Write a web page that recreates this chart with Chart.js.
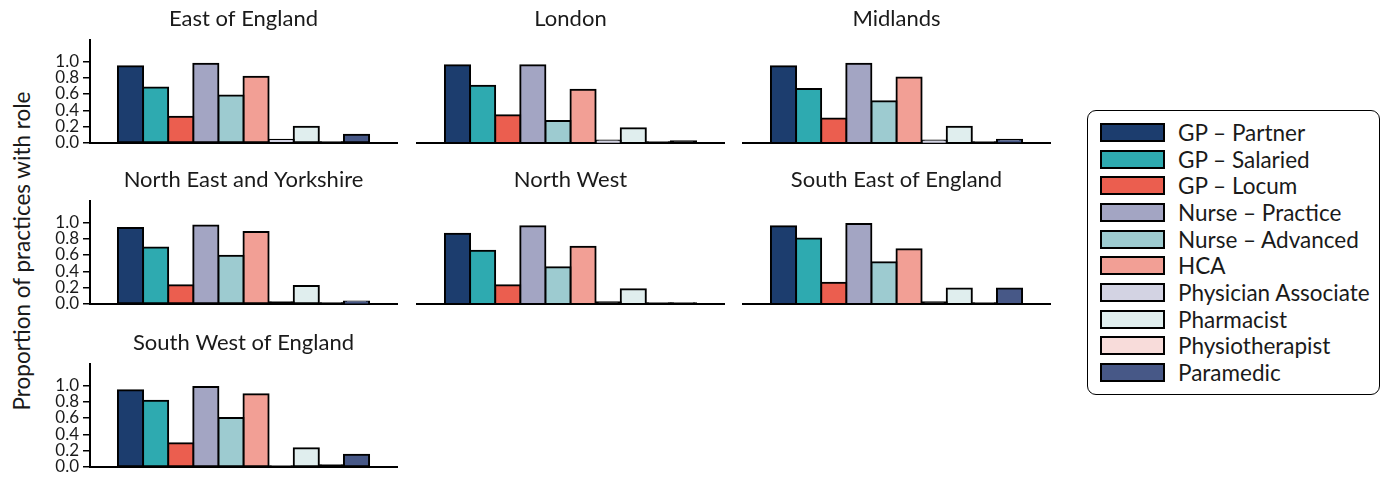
<!DOCTYPE html>
<html>
<head>
<meta charset="utf-8">
<script src="https://cdn.jsdelivr.net/npm/chart.js@4.4.1/dist/chart.umd.min.js"></script>
<style>
  body { margin: 0; width: 1381px; height: 477px; background: #fff; position: relative; overflow: hidden; font-family: Lato, sans-serif; color: #1a1a1a; }
  canvas.panel { position: absolute; }
  #ylabel { position: absolute; left: 21px; top: 251px; transform: translate(-50%, -50%) rotate(-90deg); font-size: 22.5px; white-space: nowrap; }
  #legend { position: absolute; left: 1087px; top: 110px; width: 293px; height: 285px; border: 1.5px solid #000; border-radius: 9px; box-sizing: border-box; }
  .item { position: absolute; left: 12px; height: 19px; display: flex; align-items: center; }
  .swatch { width: 65px; height: 19px; border: 2px solid #000; box-sizing: border-box; flex: none; }
  .item span { margin-left: 13px; font-size: 22.5px; line-height: 19px; white-space: nowrap; }
</style>
</head>
<body>
<div id="ylabel">Proportion of practices with role</div>
<div id="legend"></div>
<script>
// Staff roles, in bar order, with their fill colours
const roles = ['GP – Partner', 'GP – Salaried', 'GP – Locum', 'Nurse – Practice', 'Nurse – Advanced',
               'HCA', 'Physician Associate', 'Pharmacist', 'Physiotherapist', 'Paramedic'];
const roleColours = ['#1c3d6e', '#2eaab0', '#eb5e4f', '#a3a5c3', '#9dcbd0',
                     '#f29f95', '#d3d3e3', '#e0eeee', '#f8dcda', '#475887'];

// NHS regions, one small panel each
const regions = ['East of England', 'London', 'Midlands', 'North East and Yorkshire',
                 'North West', 'South East of England', 'South West of England'];

// Proportion of practices employing each role, per region (same order as roles)
const eastOfEngland    = [0.94, 0.68, 0.32, 0.97, 0.58, 0.81, 0.04, 0.20, 0.01, 0.10];
const london           = [0.95, 0.70, 0.34, 0.95, 0.27, 0.65, 0.03, 0.18, 0.01, 0.02];
const midlands         = [0.94, 0.66, 0.30, 0.97, 0.51, 0.80, 0.03, 0.20, 0.01, 0.04];
const northEastYorks   = [0.93, 0.69, 0.23, 0.96, 0.59, 0.88, 0.02, 0.22, 0.01, 0.03];
const northWest        = [0.86, 0.65, 0.23, 0.95, 0.45, 0.70, 0.02, 0.18, 0.01, 0.01];
const southEast        = [0.95, 0.80, 0.26, 0.98, 0.51, 0.67, 0.02, 0.19, 0.01, 0.19];
const southWest        = [0.94, 0.81, 0.29, 0.98, 0.60, 0.89, 0.005, 0.23, 0.02, 0.15];
const regionValues = [eastOfEngland, london, midlands, northEastYorks, northWest, southEast, southWest];

// Shared y axis
const yTicks = [0, 0.2, 0.4, 0.6, 0.8, 1.0];
const yMax = 1.26;

const FONT = 'Lato';
const INK = '#1a1a1a';

// Grid of panels: plot-area left edges per column, baselines per row
const colLeft = [90, 417, 743];
const rowBottom = [143, 304, 467];
const plotW = 307;
const gutter = 70;      // space left of the plot for y tick labels
const titleH = 40;
const plotH = 103;
const padBottom = 24;   // room below the baseline for the 0.0 label
const titleTop = 5.5;

// Bars shorter than their own outline are drawn as a solid edge line
const fillFor = colour => ctx => (ctx.raw !== undefined && ctx.raw < 0.025 ? '#000' : colour);

regionValues.forEach((vals, k) => {
  const col = k % 3, row = Math.floor(k / 3);
  const showY = col === 0;
  const cv = document.createElement('canvas');
  cv.className = 'panel';
  cv.width = gutter + plotW + 14;
  cv.height = titleH + plotH + padBottom;
  cv.style.left = (colLeft[col] - gutter) + 'px';
  cv.style.top = (rowBottom[row] - plotH - titleH) + 'px';
  document.body.appendChild(cv);

  new Chart(cv, {
    type: 'bar',
    data: {
      labels: [regions[k]],
      datasets: roles.map((r, i) => ({
        label: r,
        data: [vals[i]],
        backgroundColor: fillFor(roleColours[i]),
        borderColor: '#000',
        borderWidth: 2,
        borderSkipped: false,
        inflateAmount: 1,
        categoryPercentage: 0.818,
        barPercentage: 1
      }))
    },
    options: {
      responsive: false,
      animation: false,
      devicePixelRatio: 1,
      layout: { padding: { left: 0, right: 14, top: 0, bottom: padBottom } },
      plugins: {
        legend: { display: false },
        tooltip: { enabled: false },
        title: {
          display: true, text: regions[k], color: INK, fullSize: false,
          font: { family: FONT, size: 22, weight: 'normal', lineHeight: 1.2 },
          padding: { top: titleTop, bottom: titleH - titleTop - 26.4 }
        }
      },
      scales: {
        x: {
          ticks: { display: false },
          grid: { display: false },
          border: { display: true, color: '#000', width: 2 },
          afterFit: s => { s.height = 0; }
        },
        y: {
          display: showY,
          min: 0, max: yMax,
          afterBuildTicks: s => { s.ticks = yTicks.map(v => ({ value: v })); },
          afterFit: s => { s.width = gutter; },
          ticks: {
            autoSkip: false, padding: 4, color: INK,
            font: { family: FONT, size: 17 },
            callback: v => Number(v).toFixed(1)
          },
          grid: { display: true, drawOnChartArea: false, drawTicks: true, tickLength: 7, color: '#000', lineWidth: 1.5 },
          border: { display: true, color: '#000', width: 2 }
        }
      }
    }
  });
});

// Shared legend
const legend = document.getElementById('legend');
roles.forEach((r, i) => {
  const it = document.createElement('div');
  it.className = 'item';
  it.style.top = (12 + i * 26.67) + 'px';
  const sw = document.createElement('div');
  sw.className = 'swatch';
  sw.style.background = roleColours[i];
  const tx = document.createElement('span');
  tx.textContent = r;
  it.appendChild(sw);
  it.appendChild(tx);
  legend.appendChild(it);
});
</script>
</body>
</html>
